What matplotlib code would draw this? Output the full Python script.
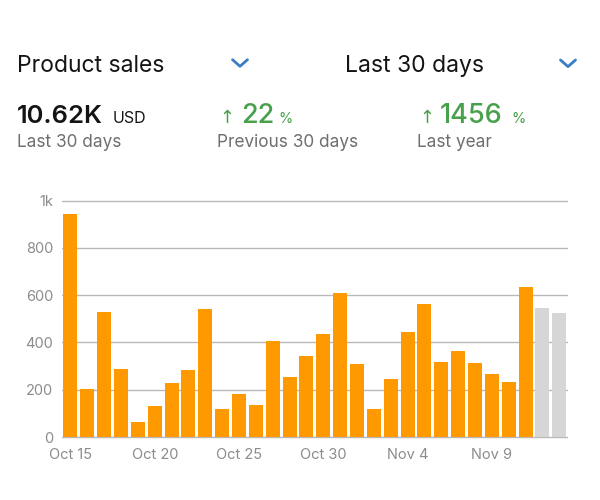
import matplotlib
matplotlib.use("Agg")
import matplotlib.pyplot as plt
from matplotlib.lines import Line2D

plt.rcParams['font.family'] = ['Inter', 'DejaVu Sans']

# ---- data ----
dates = ["Oct 15", "Oct 16", "Oct 17", "Oct 18", "Oct 19", "Oct 20", "Oct 21", "Oct 22",
         "Oct 23", "Oct 24", "Oct 25", "Oct 26", "Oct 27", "Oct 28", "Oct 29", "Oct 30",
         "Oct 31", "Nov 1", "Nov 2", "Nov 3", "Nov 4", "Nov 5", "Nov 6", "Nov 7",
         "Nov 8", "Nov 9", "Nov 10", "Nov 11", "Nov 12", "Nov 13"]
sales = [943, 203, 530, 286, 62, 132, 230, 283, 540, 117, 183, 134, 406, 254, 343,
         434, 611, 307, 120, 245, 443, 561, 317, 364, 313, 268, 234, 633, 547, 523]
is_partial = [False] * 28 + [True, True]
shown_ticks = ["Oct 15", "Oct 20", "Oct 25", "Oct 30", "Nov 4", "Nov 9"]
y_ticks = [0, 200, 400, 600, 800, 1000]
y_tick_labels = ["0", "200", "400", "600", "800", "1k"]

ORANGE = "#FF9900"
GREY_BAR = "#D6D6D6"
GREEN = "#48A04B"
BLUE = "#3B7DC4"

W, H = 600, 500
fig = plt.figure(figsize=(6, 5), dpi=100)
fig.patch.set_facecolor("white")

def fx(x):
    return x / W

def fy(y):
    return 1 - y / H

ax = fig.add_axes([fx(62), fy(439.4), 505.7 / W, 243.5 / H])
x = list(range(len(sales)))
colors = [GREY_BAR if p else ORANGE for p in is_partial]
ax.bar(x, sales, width=0.83, color=colors, zorder=3, linewidth=0)
ax.set_xlim(-0.5, len(sales) - 0.5)
ax.set_ylim(-10, 1020)
ax.set_yticks(y_ticks)
ax.set_yticklabels(y_tick_labels)
tick_pos = [dates.index(t) for t in shown_ticks]
ax.set_xticks(tick_pos)
ax.set_xticklabels(shown_ticks)
ax.tick_params(axis='both', length=0, colors="#8C8C8C", labelsize=10.5)
ax.tick_params(axis='y', pad=6.5)
ax.tick_params(axis='x', pad=6.3)
for s in ax.spines.values():
    s.set_visible(False)
ax.grid(axis='y', color="#B8B8B8", linewidth=1.0, zorder=0)
ax.set_facecolor("white")

# ---- header ----
dark = "#141414"
sub = "#6E6E6E"
fig.text(fx(17.3), fy(72.3), "Product sales", fontsize=16.5, color=dark, va='baseline')
fig.text(fx(345), fy(72.3), "Last 30 days", fontsize=16.5, color=dark, va='baseline')

fig.text(fx(17.3), fy(123.3), "10.62K", fontsize=18.4, fontweight='semibold', color=dark, va='baseline')
fig.text(fx(112.5), fy(123.3), "USD", fontsize=11.5, color=dark, va='baseline')
fig.text(fx(17), fy(146.7), "Last 30 days", fontsize=12.4, color=sub, va='baseline')

fig.text(fx(219.3), fy(123.3), "↑", fontsize=13, color=GREEN, va='baseline',
         family=['DejaVu Sans'])
fig.text(fx(240.7), fy(123.3), "22", fontsize=19.5, fontweight='medium', color=GREEN, va='baseline')
fig.text(fx(278), fy(123.3), "%", fontsize=10.5, color=GREEN, va='baseline')
fig.text(fx(217.3), fy(146.7), "Previous 30 days", fontsize=12.4, color=sub, va='baseline')

fig.text(fx(419.3), fy(123.3), "↑", fontsize=13, color=GREEN, va='baseline',
         family=['DejaVu Sans'])
fig.text(fx(440), fy(123.3), "1456", fontsize=19.5, fontweight='medium', color=GREEN, va='baseline')
fig.text(fx(511.7), fy(123.3), "%", fontsize=10.5, color=GREEN, va='baseline')
fig.text(fx(416.7), fy(146.7), "Last year", fontsize=12.4, color=sub, va='baseline')

# chevrons
for cx, cy in [(240, 63), (568, 63.3)]:
    fig.add_artist(Line2D([fx(cx - 7.5), fx(cx), fx(cx + 7.5)],
                          [fy(cy - 3.3), fy(cy + 3.3), fy(cy - 3.3)],
                          color=BLUE, linewidth=2.0, solid_capstyle='round',
                          solid_joinstyle='round'))

fig.savefig("out.png", dpi=100, facecolor="white")
